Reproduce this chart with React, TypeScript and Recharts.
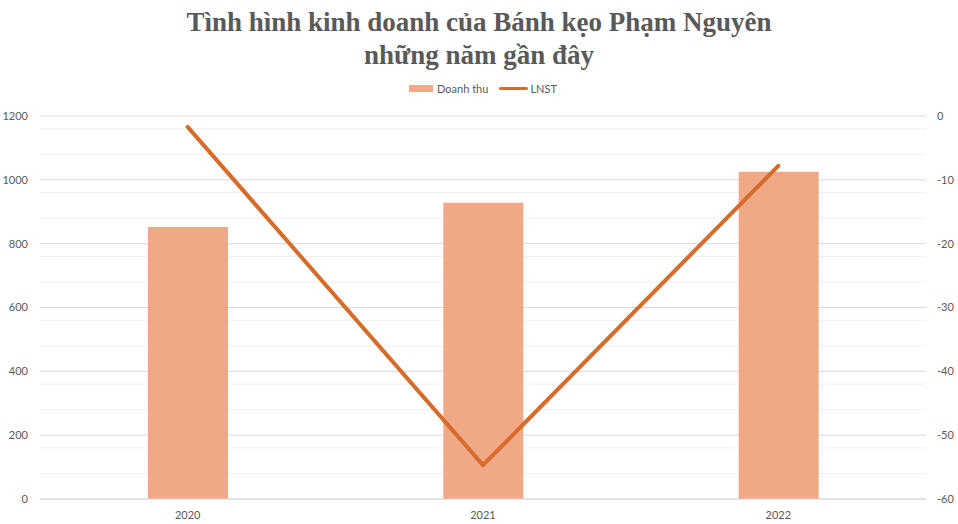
import { ComposedChart, Bar, Line, XAxis, YAxis, CartesianGrid, Legend } from 'recharts'

const years = ['2020', '2021', '2022']
const doanhThu = [852, 928, 1025]
const lnst = [-1.7, -54.7, -7.8]
const leftTicks = [0, 200, 400, 600, 800, 1000, 1200]
const rightTicks = [-60, -50, -40, -30, -20, -10, 0]
const minorTicks = [40, 80, 120, 160, 240, 280, 320, 360, 440, 480, 520, 560, 640, 680, 720, 760, 840, 880, 920, 960, 1040, 1080, 1120, 1160]

const data = years.map((year, i) => ({ year, doanhThu: doanhThu[i], lnst: lnst[i] }))

const BAR = '#F1A887'
const LINE = '#D66B2A'
const TEXT = '#595959'
const FONT = 'Lato, "Open Sans", sans-serif'

function LegendContent() {
  return (
    <div style={{ display: 'flex', justifyContent: 'center', alignItems: 'center', fontFamily: FONT, fontSize: 11, color: TEXT, paddingLeft: 8 }}>
      <span style={{ display: 'inline-block', width: 24, height: 7, background: BAR, marginRight: 4 }} />
      <span style={{ marginRight: 11 }}>Doanh thu</span>
      <span style={{ display: 'inline-block', width: 29, height: 3, background: LINE, borderRadius: 2, marginRight: 2 }} />
      <span>LNST</span>
    </div>
  )
}

export default function App() {
  return (
    <div style={{ position: 'absolute', left: 0, top: 0, width: 958, height: 524, background: '#fff' }}>
      <div
        style={{
          position: 'absolute',
          left: 0,
          top: 6,
          width: 958,
          textAlign: 'center',
          fontFamily: '"Liberation Serif", "Times New Roman", serif',
          fontWeight: 'bold',
          fontSize: 27,
          lineHeight: '33px',
          color: TEXT,
        }}
      >
        Tình hình kinh doanh của Bánh kẹo Phạm Nguyên
        <br />
        những năm gần đây
      </div>
      <ComposedChart width={958} height={524} data={data} margin={{ top: 103, right: 0, bottom: 0, left: 0 }}>
        <CartesianGrid yAxisId="left" vertical={false} stroke="#EFEFEF" horizontalValues={minorTicks} />
        <CartesianGrid yAxisId="left" vertical={false} stroke="#D9D9D9" horizontalValues={leftTicks} />
        <XAxis
          dataKey="year"
          height={25}
          tickSize={0}
          tickMargin={12}
          axisLine={{ stroke: '#D9D9D9' }}
          tick={{ fill: TEXT, fontSize: 11, fontFamily: FONT }}
        />
        <YAxis
          yAxisId="left"
          width={40}
          domain={[0, 1200]}
          ticks={leftTicks}
          tickSize={0}
          tickMargin={12}
          axisLine={false}
          tick={{ fill: TEXT, fontSize: 11, fontFamily: FONT }}
        />
        <YAxis
          yAxisId="right"
          orientation="right"
          width={32}
          domain={[-60, 0]}
          ticks={rightTicks}
          tickSize={0}
          tickMargin={11}
          axisLine={false}
          tick={{ fill: TEXT, fontSize: 11, fontFamily: FONT, textAnchor: 'start' }}
        />
        <Legend verticalAlign="top" wrapperStyle={{ top: 82, left: 0, width: 958 }} content={LegendContent} />
        <Bar yAxisId="left" dataKey="doanhThu" name="Doanh thu" fill={BAR} barSize={80} isAnimationActive={false} />
        <Line
          yAxisId="right"
          dataKey="lnst"
          name="LNST"
          stroke={LINE}
          strokeWidth={4}
          strokeLinecap="round"
          strokeLinejoin="round"
          dot={false}
          activeDot={false}
          type="linear"
          isAnimationActive={false}
        />
      </ComposedChart>
    </div>
  )
}
